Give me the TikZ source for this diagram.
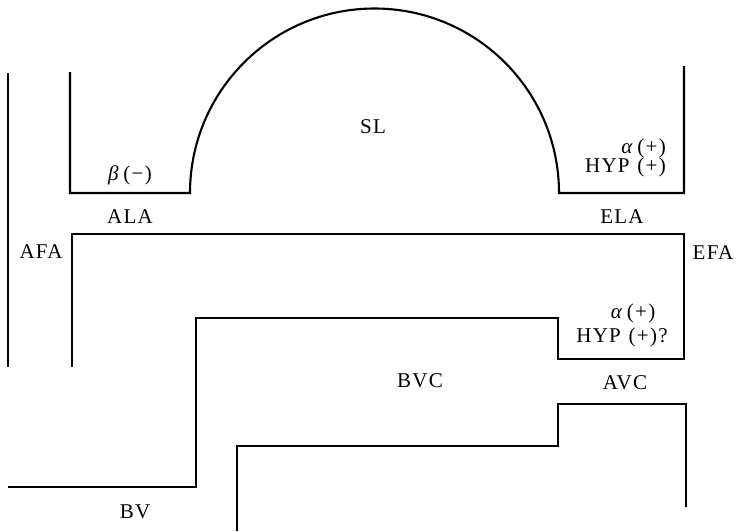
\documentclass[tikz,border=0pt]{standalone}
\usepackage{fontspec}
\setmainfont[LetterSpace=6,WordSpace=1.2]{Liberation Serif}
\begin{document}
\begin{tikzpicture}[x=1pt,y=-1pt,
  wall/.style={line width=2.1pt,line join=miter},
  lab/.style={inner sep=0pt,font=\fontsize{21}{24}\selectfont}]
\useasboundingbox (0,0) rectangle (740,531);
% coordinates
\coordinate (afaTop) at (8,73);
\coordinate (afaBot) at (8,367);
\coordinate (alaTop) at (70,72);
\coordinate (alaCorner) at (70,193);
\coordinate (arcL) at (190,193);
\coordinate (arcR) at (559,193);
\coordinate (elaCorner) at (684,193);
\coordinate (elaTop) at (684,66);
\coordinate (midL) at (72,234);
\coordinate (midR) at (684,234);
\coordinate (innerBot) at (72,367);
\coordinate (efaBot) at (684,359);
\coordinate (stepA) at (558,359);
\coordinate (stepB) at (558,318);
\coordinate (stepC) at (196,318);
\coordinate (stepD) at (196,487);
\coordinate (bvEnd) at (8,487);
\coordinate (lowStart) at (237,531);
\coordinate (lowA) at (237,446);
\coordinate (lowB) at (558,446);
\coordinate (lowC) at (558,404);
\coordinate (lowD) at (686,404);
\coordinate (lowEnd) at (686,507);
% walls
\draw[wall] (afaTop) -- (afaBot);
\draw[wall] (alaTop) -- (alaCorner) -- (arcL) arc[start angle=180,end angle=360,radius=184.5] -- (elaCorner) -- (elaTop);
\draw[wall] (innerBot) -- (midL) -- (midR) -- (efaBot) -- (stepA) -- (stepB) -- (stepC) -- (stepD) -- (bvEnd);
\draw[wall] (lowStart) -- (lowA) -- (lowB) -- (lowC) -- (lowD) -- (lowEnd);
% labels
\node[lab] (sl) at (373,127) {SL};
\node[lab] (beta) at (130,175) {\textit{β}\,(−)};
\node[lab,anchor=east] (alpha1) at (666,148) {\textit{α}\,(+)};
\node[lab,anchor=east] (hyp1) at (666,167) {HYP (+)};
\node[lab] (ala) at (130,217) {ALA};
\node[lab] (ela) at (622,217) {ELA};
\node[lab] (afa) at (41,252) {AFA};
\node[lab] (efa) at (713,253) {EFA};
\node[lab] (alpha2) at (633,313) {\textit{α}\,(+)};
\node[lab] (hyp2) at (622,337) {HYP (+)?};
\node[lab] (bvc) at (420,381) {BVC};
\node[lab] (avc) at (625,383) {AVC};
\node[lab] (bv) at (135,512) {BV};
\end{tikzpicture}
\end{document}
